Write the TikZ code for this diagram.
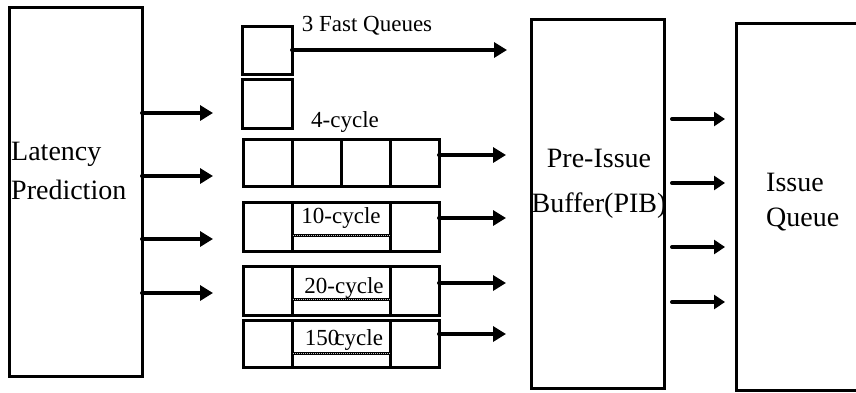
\documentclass[tikz,border=0pt]{standalone}
\usepackage{fontspec}
\setmainfont{Liberation Serif}
\usetikzlibrary{arrows.meta,calc}
\begin{document}
\begin{tikzpicture}[x=1pt,y=-1pt,
  blk/.style={draw, line width=3pt, inner sep=0pt, outer sep=0pt},
  bigtxt/.style={inner sep=0pt, font=\fontsize{28}{39}\selectfont},
  smalltxt/.style={inner sep=0pt, font=\fontsize{23}{26}\selectfont},
  arr/.style={line width=4pt, line cap=round, -{Triangle[length=13pt,width=15pt]}},
  arrs/.style={line width=4pt, line cap=round, -{Triangle[length=11pt,width=14pt]}},
  cell/.style={line width=3pt},
  dotl/.style={line width=3pt},
  dotw/.style={white!75!black, line width=0.5pt, dash pattern=on 0.6pt off 1.4pt}]
\useasboundingbox (0,0) rectangle (856,392);
\clip (0,0) rectangle (856,392);

% main blocks
\node[blk, minimum width=133pt, minimum height=369pt] (lp) at (75.5,191.5) {};
\node[bigtxt, align=left, anchor=west] (lpt) at (11,171) {Latency\\Prediction};

\node[blk, minimum width=133pt, minimum height=369pt] (pib) at (597.5,203.5) {};
\node[bigtxt, align=center, font=\fontsize{28}{45}\selectfont] (pibt) at (599,184) {Pre-Issue\\Buffer(PIB)};

\node[blk, minimum width=164pt, minimum height=367pt] (iq) at (818,206.5) {};
\node[bigtxt, align=left, anchor=west, font=\fontsize{28}{35}\selectfont] (iqt) at (766,202) {Issue\\Queue};

% fast queues
\node[blk, minimum width=50pt, minimum height=48pt] (f1) at (267,50) {};
\node[blk, minimum width=50pt, minimum height=49pt] (f2) at (267,103.5) {};
\node[smalltxt] (lf) at (367,26) {3 Fast Queues};

% 4-cycle queue
\node[blk, minimum width=196pt, minimum height=47pt] (q4) at (341,162.5) {};
\foreach \f in {0.25,0.505,0.755}
  \draw[cell] ($(q4.north west)!\f!(q4.north east)$) -- ($(q4.south west)!\f!(q4.south east)$);
\node[smalltxt] (l4) at (345,122) {4-cycle};

% 10-cycle queue
\node[blk, minimum width=196pt, minimum height=49pt] (q10) at (341,226.5) {};
% 20-cycle queue
\node[blk, minimum width=196pt, minimum height=49pt] (q20) at (341,290.5) {};
% 150-cycle queue
\node[blk, minimum width=196pt, minimum height=47pt] (q150) at (341,343.5) {};
\foreach \q in {q10,q20,q150}
  \foreach \f in {0.25,0.755}
    \draw[cell] ($(\q.north west)!\f!(\q.north east)$) -- ($(\q.south west)!\f!(\q.south east)$);

\foreach \y in {235,299,353} {
  \draw[dotl] (292,\y) -- (391,\y);
  \draw[dotw] (293,\y) -- (390,\y);
}
\node[smalltxt] (l10) at (341,218) {10-cycle};
\node[smalltxt] (l20) at (344,288) {20-cycle};
\node[smalltxt] (l150) at (344,340) {150\kern-5pt cycle};

% arrows from latency prediction
\coordinate (a1) at (213,113);
\coordinate (a2) at (213,176);
\coordinate (a3) at (213,239);
\coordinate (a4) at (213,293);
\foreach \c in {a1,a2,a3,a4}
  \draw[arr] (lp.east |- \c) -- (\c);

% arrows to PIB
\coordinate (bf) at (507,50);
\coordinate (b4) at (506,155);
\coordinate (b10) at (506,218);
\coordinate (b20) at (506,283);
\coordinate (b150) at (506,334);
\draw[arr] (f1.east) -- (bf);
\draw[arr] (q4.east |- b4) -- (b4);
\draw[arr] (q10.east |- b10) -- (b10);
\draw[arr] (q20.east |- b20) -- (b20);
\draw[arr] (q150.east |- b150) -- (b150);

% arrows PIB -> IQ
\coordinate (s1) at (672,119);
\coordinate (s2) at (672,183);
\coordinate (s3) at (672,247);
\coordinate (s4) at (672,302);
\coordinate (e1) at (725,119);
\coordinate (e2) at (725,183);
\coordinate (e3) at (725,247);
\coordinate (e4) at (725,302);
\foreach \i in {1,2,3,4}
  \draw[arrs] (s\i) -- (e\i);
\end{tikzpicture}
\end{document}
